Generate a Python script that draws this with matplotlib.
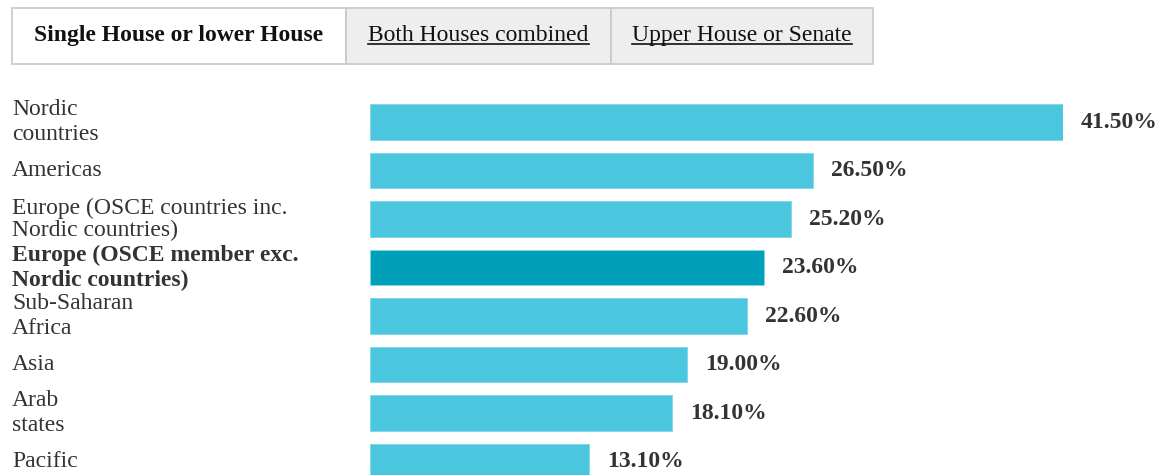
import matplotlib
matplotlib.use("Agg")
import matplotlib.pyplot as plt
from matplotlib.patches import Rectangle
from matplotlib.lines import Line2D
import matplotlib.transforms as mtransforms

categories = ["Nordic\ncountries", "Americas", "Europe (OSCE countries inc.\nNordic countries)",
              "Europe (OSCE member exc.\nNordic countries)", "Sub-Saharan\nAfrica", "Asia",
              "Arab\nstates", "Pacific"]
values = [41.5, 26.5, 25.2, 23.6, 22.6, 19.0, 18.1, 13.1]
highlight = [False, False, False, True, False, False, False, False]
tabs = ["Single House or lower House", "Both Houses combined", "Upper House or Senate"]

W, H = 1163, 475
plt.rcParams['font.family'] = ['Liberation Serif', 'DejaVu Serif']
fig = plt.figure(figsize=(W / 100, H / 100), dpi=100)

def fx(px):
    return px / W

def fy(py):
    return 1 - py / H

# axes: pixel x 370..1063, y 98..475
ax = fig.add_axes([fx(370), 0, fx(1063) - fx(370), fy(98)])
n = len(values)
ypos = list(range(n))
colors = ["#009EB8" if h else "#4AC6DE" for h in highlight]
ax.barh(ypos, values, height=0.74, color=colors, edgecolor="#7fd6e8", linewidth=0.6)
ax.set_xlim(0, 41.5)
ax.set_ylim(7.278, -0.495)
ax.axis("off")

for i, v in enumerate(values):
    ax.annotate(f"{v:.2f}%", xy=(v, i), xytext=(13, 0), textcoords="offset points",
                ha="left", va="center", fontsize=17, fontweight="bold", color="#333333",
                annotation_clip=False)

trans = mtransforms.blended_transform_factory(fig.transFigure, ax.transData)
for i, c in enumerate(categories):
    ax.text(fx(12), i, c, transform=trans, ha="left", va="center", fontsize=17,
            fontweight="bold" if highlight[i] else "normal", color="#333333",
            linespacing=1.05 if i == 2 else 1.25, clip_on=False)

# tabs
tab_x = [12, 346, 611, 873]
y0, y1 = 8, 64
for k in range(3):
    face = "white" if k == 0 else "#EEEEEE"
    r = Rectangle((fx(tab_x[k]), fy(y1)), fx(tab_x[k + 1] - tab_x[k]), (y1 - y0) / H,
                  transform=fig.transFigure, facecolor=face, edgecolor="#C8C8C8",
                  linewidth=1.2, zorder=1)
    fig.add_artist(r)

tab_texts = []
baseline_px = 41
for k, t in enumerate(tabs):
    cx = (tab_x[k] + tab_x[k + 1]) / 2
    txt = fig.text(fx(cx), fy(baseline_px), t, ha="center", va="baseline", fontsize=17,
                   fontweight="bold" if k == 0 else "normal", color="#111111", zorder=2)
    tab_texts.append(txt)

fig.canvas.draw()
renderer = fig.canvas.get_renderer()
for k in (1, 2):
    bb = tab_texts[k].get_window_extent(renderer)
    yline = fy(baseline_px + 3)
    fig.add_artist(Line2D([bb.x0 / W, bb.x1 / W], [yline, yline],
                          transform=fig.transFigure, color="#111111", linewidth=1.2, zorder=3))

fig.savefig("out.png", dpi=100)
